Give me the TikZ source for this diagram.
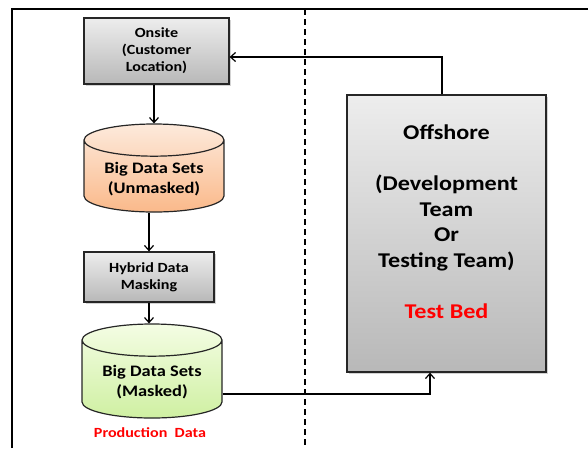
\documentclass[tikz,border=0pt]{standalone}
\usepackage{fontspec}
\setmainfont{Carlito}[FakeStretch=1.15]
\usetikzlibrary{shapes.geometric,shadows,arrows.meta}
\definecolor{greytop}{HTML}{EDEDED}
\definecolor{greybot}{HTML}{B8B8B8}
\definecolor{orangetop}{HTML}{FDEADC}
\definecolor{orangebot}{HTML}{FAB98A}
\definecolor{greentop}{HTML}{F4FDE4}
\definecolor{greenbot}{HTML}{CFF0A2}
\definecolor{redtext}{HTML}{FF0000}

\begin{document}
\begin{tikzpicture}[x=1pt,y=-1pt,
    greybox/.style={draw=black!85,line width=1.3pt,top color=greytop,bottom color=greybot,
      drop shadow={shadow xshift=1.5pt,shadow yshift=-1.5pt,opacity=0.35},align=center,inner sep=0pt},
    database/.style={cylinder,shape border rotate=90,aspect=0.3,draw=black!85,line width=1.2pt,
      minimum width=140pt,inner sep=4pt,align=center,anchor=shape center,
      font=\bfseries\fontsize{16}{19.5}\selectfont},
    smalltext/.style={font=\bfseries\fontsize{14}{17}\selectfont},
    flow/.style={-{Straight Barb[length=5pt,width=9pt]},line width=1.2pt}]
  \useasboundingbox (0,0) rectangle (588,448);
  % frame and divider
  \draw[line width=1.3pt] (12,448) -- (12,9) -- (588,9);
  \draw[line width=1.1pt,dash pattern=on 6pt off 4pt] (305,9) -- (305,448);
  % onsite side
  \node[greybox,smalltext,minimum width=145pt,minimum height=66pt](onsite) at (156.5,51){Onsite\\(Customer\\Location)};
  \node[database,minimum height=88pt,top color=orangetop,bottom color=orangebot](unmasked) at (154,168){Big Data Sets\\(Unmasked)};
  \node[greybox,smalltext,minimum width=130pt,minimum height=50pt](hybrid) at (149,277){Hybrid Data\\Masking};
  \node[database,minimum height=94pt,top color=greentop,bottom color=greenbot](masked) at (152,371){Big Data Sets\\(Masked)};
  \node[smalltext,text=redtext](production) at (150,433){Production\ \ Data};
  \coordinate (maskedout) at ([yshift=-23pt]masked.shape center);
  % offshore side
  \node[greybox,minimum width=199pt,minimum height=277pt,
    label={[align=center,font=\bfseries\fontsize{21}{25.5}\selectfont,yshift=12pt]center:{Offshore\\[25.5pt](Development\\Team\\Or\\Testing Team)\\[25.5pt]\textcolor{redtext}{Test Bed}}}](offshore) at (446.5,233.5){};
  % connectors
  \draw[flow] (onsite.south -| unmasked.north) -- (unmasked.north);
  \draw[flow] (unmasked.south -| hybrid.north) -- (hybrid.north);
  \draw[flow] (hybrid.south) -- (hybrid.south |- masked.north);
  \draw[flow] (maskedout -| masked.east) -| ([xshift=-16.5pt]offshore.south);
  \draw[flow] ([xshift=-4.5pt]offshore.north) |- ([yshift=-6pt]onsite.east);
\end{tikzpicture}
\end{document}
